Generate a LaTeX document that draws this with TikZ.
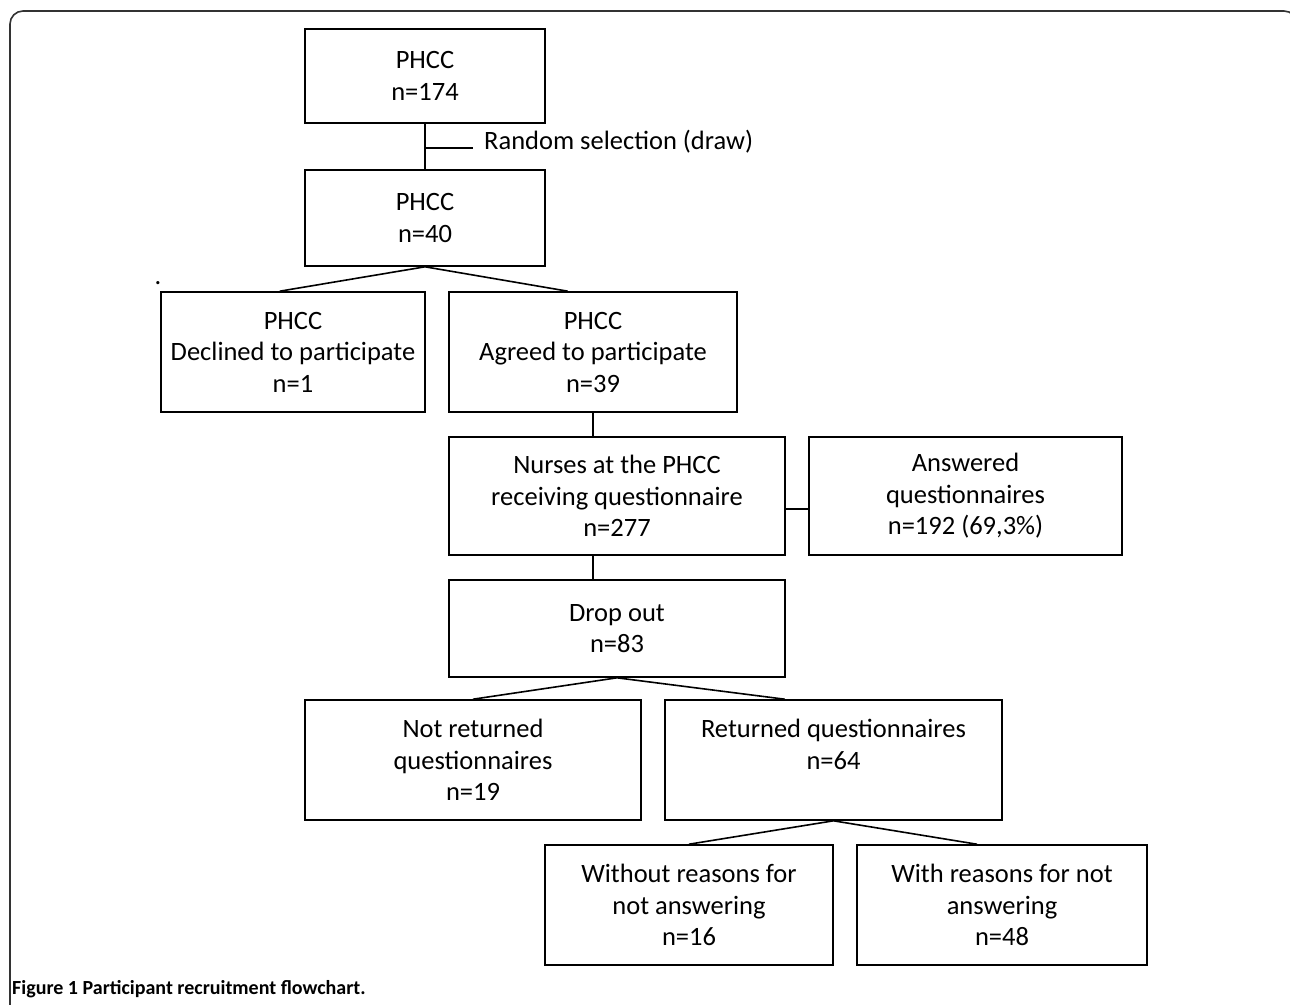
\documentclass[tikz,border=0pt]{standalone}
\usepackage{fontspec}
\setmainfont{Carlito}
\usetikzlibrary{calc}
\begin{document}
\begin{tikzpicture}[x=1pt,y=-1pt,
  box/.style={draw=black, line width=1.6pt, inner sep=0pt, align=center,
    font=\fontsize{26.5}{31.5}\selectfont},
  conn/.style={draw=black, line width=1.6pt},
  lbl/.style={font=\fontsize{26.5}{30}\selectfont, inner sep=0pt}]
\useasboundingbox (0,0) rectangle (1290,1004);
\begin{scope}
  \clip (0,0) rectangle (1290,1004);
  \draw[line width=1.6pt, draw=black!80, rounded corners=13pt]
    (10,1020) -- (10,11) -- (1297,11) -- (1297,1020);
\end{scope}

\node[box, minimum width=240pt, minimum height=94pt] (b1) at (425,76) {PHCC\\n=174};
\node[box, minimum width=240pt, minimum height=96pt] (b2) at (425,218) {PHCC\\n=40};
\node[box, minimum width=264pt, minimum height=120pt] (b3) at (293,352) {PHCC\\Declined to participate\\n=1};
\node[box, minimum width=288pt, minimum height=120pt] (b4) at (593,352) {PHCC\\Agreed to participate\\n=39};
\node[box, minimum width=336pt, minimum height=118pt] (b5) at (617,496) {Nurses at the PHCC\\receiving questionnaire\\n=277};
\node[box, minimum width=313pt, minimum height=118pt] (b6) at (965.5,496) {Answered\\questionnaires\\n=192 (69,3\%)};
\node[box, minimum width=336pt, minimum height=97pt] (b7) at (617,628.5) {Drop out\\n=83};
\node[box, minimum width=336pt, minimum height=120pt] (b8) at (473,760) {Not returned\\questionnaires\\n=19};
\node[box, minimum width=337pt, minimum height=120pt] (b9) at (833.5,760) {Returned questionnaires\\n=64\\\mbox{}};
\node[box, minimum width=288pt, minimum height=120pt] (b10) at (689,905) {Without reasons for\\not answering\\n=16};
\node[box, minimum width=290pt, minimum height=120pt] (b11) at (1002,905) {With reasons for not\\answering\\n=48};

% connectors
\draw[conn] (b1.south) -- (b2.north);
\coordinate (rs) at (425,148);
\coordinate (rsend) at (473,148);
\draw[conn] (rs) -- (rsend);
\node[lbl, anchor=base west] (rslbl) at (484,149) {Random selection (draw)};

\draw[conn] ($(b3.north west)!0.45!(b3.north east)$) -- (b2.south) -- ($(b4.north west)!0.413!(b4.north east)$);
\draw[conn] (b4.south) -- (b4.south |- b5.north);
\draw[conn] ([yshift=-13pt]b5.east) -- ([yshift=-13pt]b5.east -| b6.west);
\draw[conn] (b4.south |- b5.south) -- (b4.south |- b7.north);
\draw[conn] (b8.north) -- (b7.south) -- ($(b9.north west)!0.356!(b9.north east)$);
\draw[conn] (b10.north) -- (b9.south) -- ($(b11.north west)!0.414!(b11.north east)$);

\node[lbl, anchor=base] (dot) at (158,284) {.};

\node[anchor=base west, inner sep=0pt, font=\bfseries\fontsize{20}{24}\selectfont] (cap) at (12,994) {Figure 1 Participant recruitment flowchart.};
\end{tikzpicture}
\end{document}
